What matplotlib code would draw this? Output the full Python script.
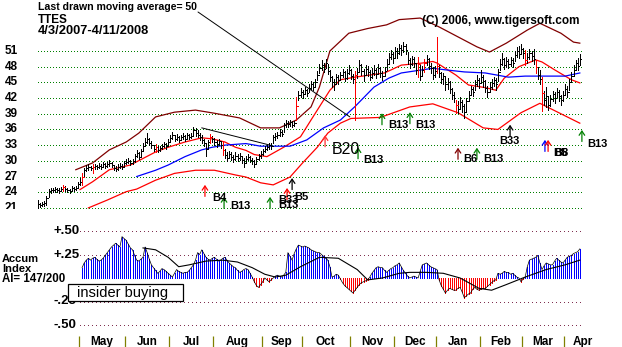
import numpy as np
import matplotlib
matplotlib.use("Agg")
import matplotlib.pyplot as plt
from matplotlib.patches import Rectangle

# ── data ───────────────────────────────────────────────────────────────────
TICKER = "TTES"
DATE_RANGE = "4/3/2007-4/11/2008"

# daily bars, trading day 0 = 4/3/2007
close = [
    21.8, 21.6, 21.7, 21.9, 22.9, 24.2, 24.5, 24.4, 24.6, 24.5,
    24.3, 24.6, 25.0, 24.6, 24.4, 24.2, 24.8, 24.6, 24.9, 25.6,
    26.0, 26.9, 28.2, 28.6, 28.9, 28.7, 28.9, 29.0, 28.8, 29.1,
    28.9, 29.3, 29.0, 29.3, 29.6, 29.2, 28.7, 28.5, 28.9, 29.1,
    28.8, 29.6, 29.8, 30.0, 29.6, 29.9, 31.0, 31.5, 30.8, 31.9,
    32.8, 33.6, 34.2, 33.4, 33.0, 32.3, 32.6, 32.0, 32.4, 32.8,
    33.2, 32.9, 33.6, 34.4, 34.9, 34.2, 34.6, 34.0, 34.5, 34.8,
    34.2, 35.0, 34.6, 34.8, 35.8, 35.4, 35.0, 34.6, 34.0, 33.5,
    32.2, 33.6, 34.6, 34.1, 33.6, 33.2, 33.8, 33.0, 32.0, 31.2,
    30.6, 31.4, 30.8, 30.4, 31.0, 30.5, 30.9, 30.2, 29.6, 30.4,
    30.8, 30.2, 29.9, 29.4, 30.4, 30.9, 31.3, 31.8, 32.2, 32.6,
    33.0, 32.9, 34.6, 34.8, 35.0, 35.6, 35.2, 36.8, 37.2, 37.0,
    37.5, 36.9, 37.2, 40.5, 42.6, 43.2, 42.8, 43.6, 43.0, 44.0,
    44.6, 44.2, 45.0, 46.5, 47.8, 48.4, 47.6, 48.8, 47.2, 46.0,
    45.0, 44.6, 46.0, 45.4, 46.4, 47.0, 45.8, 46.8, 47.4, 46.2,
    45.6, 46.4, 47.0, 48.4, 47.2, 46.4, 47.6, 47.0, 46.0, 46.8,
    47.4, 46.6, 47.8, 46.8, 46.2, 47.2, 48.6, 49.8, 50.4, 49.6,
    51.0, 50.6, 51.6, 51.2, 52.0, 51.2, 49.2, 48.6, 49.4, 48.8,
    47.4, 48.6, 46.2, 47.4, 48.8, 49.4, 48.2, 47.8, 46.4, 47.2,
    48.2, 46.8, 45.6, 46.2, 44.6, 45.0, 43.8, 42.6, 42.0, 40.6,
    40.0, 41.2, 40.4, 39.4, 41.4, 42.6, 43.8, 43.2, 44.6, 45.4,
    44.8, 46.0, 45.2, 44.0, 43.2, 44.2, 44.8, 45.4, 44.6, 47.0,
    48.6, 49.4, 48.4, 49.0, 48.6, 49.2, 48.8, 50.2, 51.0, 50.4,
    51.4, 50.6, 49.2, 49.8, 50.6, 50.0, 49.4, 48.0, 46.4, 45.6,
    43.0, 41.6, 42.4, 40.6, 41.8, 42.8, 42.0, 43.2, 42.4, 41.6,
    42.6, 43.8, 43.2, 45.0, 46.2, 47.4, 48.8, 48.2, 49.4,
]
high = [
    22.5, 22.0, 22.1, 22.3, 23.3, 24.6, 24.9, 24.8, 25.0, 24.9,
    24.8, 25.0, 25.4, 25.1, 24.8, 24.7, 25.1, 25.0, 25.2, 26.0,
    26.8, 27.7, 28.6, 29.2, 29.4, 29.1, 29.3, 29.4, 29.2, 29.5,
    29.3, 29.8, 29.5, 29.7, 30.2, 29.8, 29.2, 29.0, 29.3, 29.5,
    29.3, 30.0, 30.3, 30.5, 30.1, 30.4, 31.4, 32.0, 31.6, 32.3,
    33.4, 34.3, 35.3, 34.4, 33.7, 33.1, 33.3, 32.8, 32.9, 33.3,
    33.6, 33.4, 34.1, 35.0, 35.5, 35.0, 35.1, 34.8, 35.0, 35.3,
    34.9, 35.4, 35.2, 35.3, 36.4, 36.2, 35.8, 35.4, 34.9, 34.2,
    33.2, 34.0, 35.2, 34.8, 34.4, 33.9, 34.2, 33.8, 33.6, 32.2,
    31.6, 31.9, 31.6, 31.2, 31.6, 31.4, 31.5, 31.0, 30.6, 30.9,
    31.4, 31.0, 30.6, 30.2, 30.8, 31.4, 31.8, 32.3, 32.8, 33.1,
    33.5, 33.4, 35.0, 35.4, 35.6, 36.0, 35.9, 37.3, 37.8, 37.6,
    37.9, 37.6, 37.7, 42.2, 43.4, 43.9, 43.6, 44.1, 43.8, 44.6,
    45.2, 45.0, 45.6, 47.2, 48.6, 49.3, 48.8, 49.4, 48.6, 47.4,
    46.2, 45.6, 46.6, 46.4, 47.0, 47.6, 47.2, 47.6, 48.4, 47.6,
    46.6, 47.2, 47.8, 49.3, 48.6, 47.6, 48.4, 48.2, 47.4, 47.8,
    48.4, 47.8, 48.6, 48.0, 47.2, 48.0, 49.4, 50.6, 51.2, 50.8,
    51.8, 51.6, 52.4, 52.2, 52.7, 52.4, 50.8, 49.6, 50.0, 49.8,
    48.8, 49.9, 48.4, 48.2, 49.4, 50.2, 49.6, 48.8, 48.0, 48.2,
    53.7, 48.4, 47.0, 46.8, 46.2, 45.8, 45.2, 44.0, 43.2, 41.6,
    41.4, 42.2, 41.6, 40.8, 42.0, 43.4, 44.4, 44.2, 45.4, 46.4,
    45.8, 47.4, 46.4, 45.4, 44.4, 45.0, 45.6, 46.0, 45.8, 47.6,
    49.4, 50.6, 49.6, 49.8, 49.4, 49.9, 49.6, 51.0, 51.8, 52.0,
    52.4, 51.6, 51.2, 50.6, 51.4, 51.0, 51.4, 49.3, 48.0, 47.4,
    46.0, 43.4, 44.2, 42.2, 42.6, 43.4, 43.2, 44.0, 43.6, 42.6,
    43.4, 44.6, 44.4, 45.6, 47.0, 48.4, 49.3, 49.6, 50.4,
]
low = [
    20.8, 21.2, 21.3, 21.4, 21.6, 23.0, 23.9, 24.0, 24.1, 24.1,
    23.9, 24.2, 24.2, 24.3, 24.0, 23.8, 24.2, 24.2, 24.4, 24.9,
    25.4, 25.4, 26.9, 28.0, 28.3, 28.2, 27.6, 28.5, 28.4, 28.6,
    28.5, 28.8, 28.6, 28.8, 29.1, 28.8, 28.3, 28.1, 28.3, 28.6,
    28.4, 29.0, 29.3, 29.5, 29.2, 29.4, 29.8, 30.8, 30.3, 30.8,
    31.8, 32.9, 33.5, 33.0, 32.4, 31.8, 31.7, 31.6, 31.9, 32.2,
    32.6, 32.3, 33.0, 33.6, 34.2, 33.8, 34.0, 33.6, 33.9, 34.2,
    33.7, 34.3, 34.1, 34.3, 35.0, 34.8, 34.5, 34.0, 33.4, 32.8,
    31.0, 32.4, 33.4, 33.6, 33.0, 32.7, 33.0, 32.5, 31.2, 30.6,
    30.0, 30.5, 30.2, 29.8, 30.2, 29.9, 30.2, 29.6, 28.8, 29.6,
    30.1, 29.7, 29.3, 28.9, 29.5, 30.2, 30.6, 31.2, 31.6, 32.0,
    32.3, 32.3, 33.4, 34.0, 34.4, 34.8, 34.7, 35.6, 36.4, 36.4,
    36.7, 36.4, 36.6, 37.8, 41.6, 42.3, 42.1, 42.8, 42.4, 43.2,
    43.8, 43.6, 44.2, 45.4, 46.8, 47.4, 47.0, 47.8, 46.6, 45.2,
    44.2, 43.6, 44.8, 44.6, 45.4, 46.0, 45.2, 45.6, 46.6, 45.6,
    44.8, 37.8, 45.8, 47.2, 46.4, 45.2, 46.4, 46.2, 45.4, 45.8,
    46.4, 45.8, 46.6, 46.0, 45.4, 46.2, 47.4, 48.6, 49.4, 48.8,
    49.8, 49.6, 50.4, 50.2, 50.8, 50.4, 48.6, 47.8, 48.4, 48.0,
    46.6, 46.0, 45.4, 46.2, 47.0, 48.4, 47.6, 46.8, 45.6, 46.0,
    46.8, 46.0, 44.8, 44.6, 43.6, 43.8, 43.0, 41.8, 41.2, 39.2,
    39.2, 40.0, 39.4, 38.2, 39.6, 41.4, 42.6, 42.4, 43.6, 44.4,
    44.0, 45.0, 44.2, 43.2, 42.2, 43.2, 43.8, 44.4, 43.6, 45.2,
    47.4, 48.4, 47.6, 48.0, 47.8, 48.2, 48.0, 49.0, 49.8, 49.6,
    50.4, 49.6, 48.4, 48.8, 49.4, 49.0, 48.6, 46.8, 45.6, 44.6,
    39.6, 40.6, 40.2, 39.8, 40.4, 41.4, 41.0, 42.2, 41.4, 40.6,
    41.4, 42.6, 42.2, 43.6, 45.0, 46.2, 47.4, 47.4, 48.4,
]
red_bars = [12, 21, 26, 56, 82, 88, 123, 151, 181, 184, 190, 199, 232, 237, 240]

# moving averages and bands (trading day, price)
ma21_day = [20, 26, 34, 44, 56, 62, 70, 78, 83, 89, 94, 99, 103, 109, 117, 125,
            130, 136, 139, 144, 151, 165, 173, 183, 188, 190, 199, 205, 213,
            218, 222, 229, 237, 240, 246, 254, 258]
ma21_val = [24.5, 26.0, 28.3, 29.2, 31.7, 32.6, 33.6, 34.4, 34.2, 33.6, 32.6,
            32.0, 31.2, 30.8, 32.6, 34.6, 37.8, 41.6, 43.5, 45.5, 46.0, 46.8,
            48.3, 48.7, 49.0, 48.7, 46.4, 44.5, 44.0, 43.5, 45.8, 48.0, 49.3,
            48.9, 47.4, 45.5, 44.9]
ma50_day = [47, 56, 62, 70, 78, 83, 89, 99, 106, 120, 128, 136, 144, 151, 160,
            167, 173, 183, 188, 194, 203, 213, 224, 232, 241, 251, 258]
ma50_val = [27.0, 28.2, 29.2, 30.8, 32.1, 32.6, 33.0, 33.3, 32.8, 32.8, 34.0,
            36.3, 37.8, 40.4, 44.1, 45.8, 46.8, 47.4, 47.7, 47.4, 47.0, 46.8,
            46.0, 46.2, 46.2, 46.2, 46.8]
upper_day = [18, 26, 34, 42, 48, 56, 65, 75, 84, 96, 106, 115, 123, 130, 134,
             139, 148, 157, 166, 172, 182, 191, 200, 209, 215, 223, 233, 239,
             249, 255, 258]
upper_val = [28.3, 29.6, 32.1, 33.6, 35.3, 38.4, 39.3, 39.7, 39.1, 38.2, 36.3,
             36.3, 37.8, 40.3, 44.1, 51.0, 54.4, 55.3, 56.0, 57.0, 57.3, 55.6,
             53.7, 51.8, 50.8, 52.5, 55.0, 56.3, 54.4, 52.7, 52.5]
lower_day = [24, 33, 42, 47, 56, 65, 75, 84, 94, 99, 106, 112, 120, 126, 133,
             138, 144, 149, 163, 177, 188, 200, 212, 219, 230, 239, 252, 258]
lower_val = [21.0, 22.5, 24.1, 24.6, 26.3, 27.6, 28.2, 28.2, 27.3, 26.9, 25.8,
             25.4, 26.9, 29.6, 32.6, 35.3, 37.2, 38.1, 38.3, 40.3, 40.9, 39.2,
             36.3, 36.0, 39.2, 41.0, 38.4, 37.2]

# July resistance line
trend_day = [78, 110.5]
trend_val = [36.3, 33.0]

# accumulation index, daily from trading day 21
ai_first_day = 21
ai = [
    0.11, 0.16, 0.19, 0.21, 0.19, 0.21, 0.22, 0.20, 0.18, 0.19,
    0.21, 0.24, 0.27, 0.30, 0.33, 0.35, 0.37, 0.35, 0.33, 0.44,
    0.42, 0.40, 0.36, 0.32, 0.30, 0.24, 0.19, 0.18, 0.20, 0.22,
    0.33, 0.27, 0.20, 0.14, 0.11, 0.08, 0.05, 0.07, 0.10, 0.09,
    0.07, 0.05, 0.03, 0.01, 0.05, 0.09, 0.07, 0.06, 0.05, 0.06,
    0.06, 0.08, 0.11, 0.14, 0.19, 0.27, 0.25, 0.30, 0.26, 0.22,
    0.20, 0.19, 0.21, 0.22, 0.20, 0.18, 0.19, 0.21, 0.22, 0.19,
    0.16, 0.14, 0.12, 0.11, 0.08, 0.06, 0.07, 0.09, 0.10, 0.09,
    0.05, 0.01, -0.04, -0.08, -0.10, -0.07, -0.04, 0.00, -0.02, -0.04,
    -0.02, 0.00, 0.02, 0.03, 0.02, 0.01, 0.03, 0.06, 0.27, 0.23,
    0.19, 0.26, 0.31, 0.35, 0.34, 0.33, 0.34, 0.33, 0.32, 0.30,
    0.29, 0.28, 0.27, 0.27, 0.25, 0.23, 0.21, 0.19, 0.12, 0.01,
    0.02, 0.04, 0.03, -0.01, -0.05, -0.08, -0.10, -0.12, -0.14, -0.16,
    -0.13, -0.10, -0.07, -0.05, -0.04, -0.03, -0.02, 0.01, 0.05, 0.08,
    0.11, 0.12, 0.11, 0.11, 0.08, 0.06, 0.08, 0.10, 0.11, 0.13,
    0.14, 0.16, 0.12, 0.08, 0.05, 0.02, 0.00, 0.01, 0.02, 0.01,
    0.00, 0.07, 0.14, 0.15, 0.16, 0.14, 0.12, 0.11, 0.10, 0.09,
    -0.02, -0.08, -0.12, -0.16, -0.13, -0.11, -0.12, -0.13, -0.13, -0.11,
    -0.10, -0.15, -0.21, -0.19, -0.17, -0.16, -0.12, -0.10, -0.12, -0.13,
    -0.12, -0.11, -0.11, -0.09, -0.07, -0.05, -0.03, -0.02, 0.05, 0.04,
    0.05, 0.07, 0.06, 0.06, 0.04, 0.05, 0.03, 0.01, 0.00, -0.04,
    -0.01, 0.01, 0.12, 0.19, 0.20, 0.21, 0.22, 0.24, 0.16, 0.09,
    0.13, 0.16, 0.15, 0.14, 0.14, 0.18, 0.21, 0.19, 0.17, 0.16,
    0.19, 0.22, 0.23, 0.24, 0.26, 0.27, 0.28, 0.31,
]
ai_ma_day = [50, 56, 62, 67, 72, 80, 88, 95, 102, 108, 113, 118, 125, 134, 143,
             152, 157, 164, 172, 177, 185, 193, 201, 210, 216, 223, 232, 242,
             251, 258]
ai_ma_val = [0.32, 0.30, 0.22, 0.12, 0.14, 0.18, 0.19, 0.17, 0.11, 0.04, 0.01,
             0.03, 0.12, 0.22, 0.21, 0.09, -0.02, 0.00, 0.05, 0.06, 0.06, 0.05,
             0.00, -0.11, -0.13, -0.07, 0.01, 0.09, 0.14, 0.19]
AI_TEXT = "AI= 147/200"

# first trading day of each month
month_start = [19, 41, 62, 83, 106, 125, 148, 169, 189, 210, 230, 250]
month_names = ["May", "Jun", "Jul", "Aug", "Sep", "Oct", "Nov", "Dec",
               "Jan", "Feb", "Mar", "Apr"]

price_levels = [21, 24, 27, 30, 33, 36, 39, 42, 45, 48, 51]
ai_levels = [0.50, 0.25, -0.25, -0.50]
ai_level_text = ["+.50", "+.25", "-.25", "-.50"]

# buy signals: trading day, arrow tip price, name, colour
sig_day = [79.5, 88.6, 110.5, 118.6, 121.0, 136.7, 152.4, 163.8, 177.1,
           200.0, 209.0, 224.8, 241.4, 242.9, 259.0]
sig_tip = [25.4, 23.1, 23.1, 24.8, 26.7, 34.9, 32.6, 39.1, 39.3,
           32.5, 32.5, 36.9, 34.0, 34.0, 35.9]
sig_name = ["B4", "B13", "B13", "B33", "B5", "B20", "B13", "B13", "B13",
            "B6", "B13", "B33", "B5", "B8", "B13"]
sig_color = ["#ff0000", "#008000", "#008000", "#ff0000", "#000000", "#ff3030",
             "#008000", "#008000", "#008000", "#800000", "#008000", "#000000",
             "#0000ff", "#ff0000", "#008000"]

# ── layout (pixels) ────────────────────────────────────────────────────────
W, H = 622, 347
X0, DX = 38, 2.1          # x of day 0, px per trading day
Y51, PX_PT = 51, 5.23     # y of the 51 gridline, px per point
SPLIT = 209               # boundary between price and AI panels
Y_AI0, PX_AI = 278, 94    # y of AI zero, px per 1.0 AI
ARROW = 2.2               # arrow length in price points
PX = 0.72                 # one pixel in points

# label offsets (px) from arrow tail, and alignment
sig_dx = [7, 6, 8, -9, 2, 7, 5, 6, 5, 5, 6, -1, 8, 6, 5]
sig_dy = [-1.5, 2, 3, 0, -7, -3, -1, 0, -1, 0, 0, -5, -2, -2, -3]
sig_ha = ["left"] * 11 + ["center"] + ["left"] * 3

FONT = "Liberation Sans"
plt.rcParams["font.family"] = [FONT, "DejaVu Sans"]


def fx(px):
    return px / W


def fy(py):
    return 1 - py / H


fig = plt.figure(figsize=(W / 100, H / 100), dpi=100)
fig.patch.set_facecolor("white")

xlim = (-X0 / DX, (W - X0) / DX)
p_top = Y51 + Y51 / PX_PT
p_bot = Y51 - (SPLIT - Y51) / PX_PT
ax = fig.add_axes([0, fy(SPLIT), 1, SPLIT / H])
ax.set_xlim(*xlim)
ax.set_ylim(p_bot, p_top)
ax.axis("off")

a_top = (Y_AI0 - SPLIT) / PX_AI
a_bot = (Y_AI0 - H) / PX_AI
axa = fig.add_axes([0, 0, 1, (H - SPLIT) / H])
axa.set_xlim(*xlim)
axa.set_ylim(a_bot, a_top)
axa.axis("off")

last_day = len(close) - 1

# ── price panel ────────────────────────────────────────────────────────────
ax.hlines(price_levels, 0, last_day + 1, colors="#008000", lw=PX,
          linestyles=(0, (1, 2.5)), antialiased=False, zorder=1)
for lv in price_levels:
    ax.text(fx(5), lv, str(lv), transform=ax.get_yaxis_transform(),
            fontsize=8.5, fontweight="bold", va="center", ha="left",
            clip_on=True)

ax.plot(upper_day, upper_val, color="#800000", lw=0.9, zorder=2)
ax.plot(lower_day, lower_val, color="#ff0000", lw=0.9, zorder=2)
ax.plot(ma21_day, ma21_val, color="#ff0000", lw=0.9, zorder=2)
ax.plot(ma50_day, ma50_val, color="#0000ff", lw=0.9, zorder=2)
ax.plot(trend_day, trend_val, color="black", lw=0.7, zorder=2)

days = np.arange(len(close))
is_red = np.isin(days, red_bars)
close_a, high_a, low_a = map(np.asarray, (close, high, low))
for mask, col in ((~is_red, "black"), (is_red, "#ff0000")):
    ax.vlines(days[mask], low_a[mask], high_a[mask], colors=col, lw=PX,
              antialiased=False, zorder=3)
    ax.hlines(close_a[mask], days[mask], days[mask] + 0.8, colors=col, lw=PX,
              antialiased=False, zorder=3)

for d, tip, name, c, dx, dy, ha in zip(sig_day, sig_tip, sig_name, sig_color,
                                        sig_dx, sig_dy, sig_ha):
    ax.annotate("", xy=(d, tip), xytext=(d, tip - ARROW),
                arrowprops=dict(arrowstyle="->,head_length=0.3,head_width=0.2",
                                color=c, lw=0.9, shrinkA=0, shrinkB=0),
                zorder=4)
    big = name == "B20"
    ax.annotate(name, xy=(d, tip - ARROW), xytext=(dx, dy),
                textcoords="offset pixels", ha=ha, va="center",
                fontsize=11.5 if big else 8,
                fontweight="normal" if big else "bold", zorder=5)

# moving-average pointer from the header line
ax.annotate("", xy=(148.5, 38.4), xytext=(fx(198), fy(12)),
            textcoords="figure fraction",
            arrowprops=dict(arrowstyle="-", color="black", lw=0.7,
                            shrinkA=0, shrinkB=0), zorder=4,
            annotation_clip=False)

fig.text(fx(38), fy(7.5), "Last drawn moving average= 50", fontsize=7.6,
         fontweight="bold", va="center")
fig.text(fx(38), fy(20), TICKER, fontsize=8.5, fontweight="bold", va="center")
fig.text(fx(38), fy(31), DATE_RANGE, fontsize=9.3, fontweight="bold",
         va="center")
fig.text(fx(422), fy(21), "(C) 2006, www.tigersoft.com", fontsize=8.5,
         fontweight="bold", va="center", zorder=6)

# ── accumulation index panel ───────────────────────────────────────────────
ai_days = np.arange(ai_first_day, ai_first_day + len(ai))
ai_a = np.asarray(ai)
axa.hlines(ai_levels, 20, last_day + 1, colors="#803050", lw=PX,
           linestyles=(0, (1, 4)), antialiased=False, zorder=1)
pos = ai_a >= 0
axa.vlines(ai_days[pos], 0, ai_a[pos], colors="#0000ff", lw=PX,
           antialiased=False, zorder=2)
axa.vlines(ai_days[~pos], 0, ai_a[~pos], colors="#ff0000", lw=PX,
           antialiased=False, zorder=2)
axa.plot(ai_days, ai_a, color="black", lw=0.5, zorder=3)
axa.plot(ai_ma_day, ai_ma_val, color="black", lw=0.8, zorder=3)

for lv, t in zip(ai_levels, ai_level_text):
    fig.text(fx(53), fy(Y_AI0 - lv * PX_AI), t, fontsize=9.5,
             fontweight="bold", va="center", zorder=1)

fig.text(fx(2), fy(258.5), "Accum", fontsize=8, fontweight="bold", va="center")
fig.text(fx(2), fy(268.5), "Index", fontsize=8, fontweight="bold", va="center")
fig.text(fx(2), fy(279), AI_TEXT, fontsize=8.3, fontweight="bold", va="center")

box = Rectangle((fx(68), fy(301)), fx(183) - fx(68), fy(284) - fy(301),
                transform=fig.transFigure, facecolor="white",
                edgecolor="black", lw=0.9, zorder=5)
fig.add_artist(box)
fig.text(fx(77), fy(292.5), "insider buying", fontsize=10.5, va="center",
         zorder=6)

# month ticks along the bottom
tick_top = (Y_AI0 - 336) / PX_AI
for i, (m, name) in enumerate(zip(month_start, month_names)):
    axa.vlines(m + 0.5, a_bot, tick_top, colors="#808000", lw=0.9,
               clip_on=False)
    nxt = month_start[i + 1] if i + 1 < len(month_start) else m + 18
    axa.text((m + nxt) / 2 + 0.5, tick_top + 0.005, name, fontsize=8.5,
             fontweight="bold", ha="center", va="top", clip_on=False)

fig.savefig("out.png", dpi=100)
